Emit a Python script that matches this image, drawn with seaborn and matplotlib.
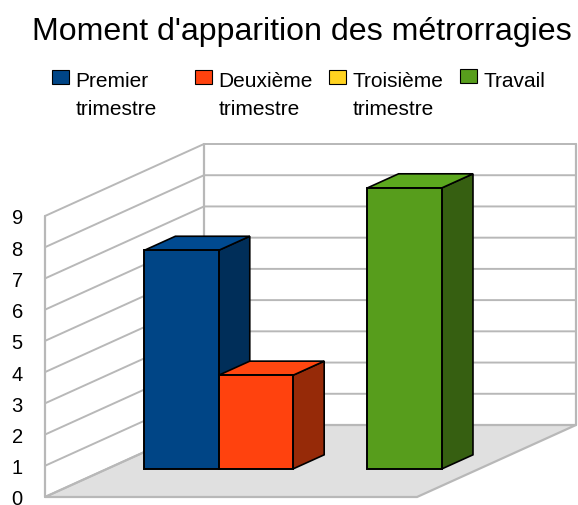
"""Moment d'apparition des metrorragies, bars with a fake 3D depth."""

import matplotlib
matplotlib.use("Agg")
import matplotlib.pyplot as plt
import pandas as pd
import seaborn as sns
from matplotlib.legend_handler import HandlerPatch
from matplotlib.patches import Patch, Polygon, Rectangle

# data
periodes = ["Premier trimestre", "Deuxième trimestre", "Troisième trimestre", "Travail"]
legend_labels = ["Premier\ntrimestre", "Deuxième\ntrimestre", "Troisième\ntrimestre", "Travail"]
cas = [7, 3, 0, 9]
y_ticks = [0, 1, 2, 3, 4, 5, 6, 7, 8, 9]

# colours
front_colors = ["#004586", "#ff420e", "#ffd320", "#579d1c"]
side_colors = ["#002e59", "#962a08", "#997e13", "#365f11"]
top_colors = ["#004a90", "#ff4710", "#ffd622", "#5ca81e"]
GRID = "#b8b8b8"

# layout, in pixels of the 578x506 figure
W, H = 578, 506
AX_LEFT, AX_RIGHT, AX_BOTTOM, AX_TOP = 45, 417, 498, 217
XLIM = (-1, 4)
YLIM = (0, 9)
px_x = (AX_RIGHT - AX_LEFT) / (XLIM[1] - XLIM[0])
px_y = (AX_BOTTOM - AX_TOP) / (YLIM[1] - YLIM[0])

# depth vector of the floor in data units, and where the bars sit along it
DEPTH_X = 159 / px_x
DEPTH_Y = 72 / px_y
BAR_FRONT = 0.39
BAR_DEPTH = 0.196

sns.set_theme(style="white")
plt.rcParams["font.family"] = ["Liberation Sans", "DejaVu Sans"]

fig = plt.figure(figsize=(W / 100, H / 100), dpi=100)
ax = fig.add_axes([AX_LEFT / W, (H - AX_BOTTOM) / H, (AX_RIGHT - AX_LEFT) / W, (AX_BOTTOM - AX_TOP) / H])
ax.patch.set_alpha(0)

df = pd.DataFrame({"periode": periodes, "cas": cas})
sns.barplot(
    data=df, x="periode", y="cas", hue="periode", order=periodes, hue_order=periodes,
    palette=front_colors, saturation=1, width=1, gap=0, legend=False, dodge=False,
    edgecolor="black", linewidth=1.4, ax=ax,
)
bars = list(ax.patches)

x0, x1 = XLIM
y0, y1 = YLIM

# floor and walls
ax.add_patch(Polygon(
    [(x0, y0), (x1, y0), (x1 + DEPTH_X, y0 + DEPTH_Y), (x0 + DEPTH_X, y0 + DEPTH_Y)],
    closed=True, facecolor="#e0e0e0", edgecolor=GRID, linewidth=1.6, zorder=0, clip_on=False,
))
for tick in y_ticks:
    ax.plot([x0, x0 + DEPTH_X, x1 + DEPTH_X], [tick, tick + DEPTH_Y, tick + DEPTH_Y],
            color=GRID, linewidth=1.4, zorder=1, clip_on=False)
ax.plot([x0, x0], [y0, y1], color=GRID, linewidth=1.6, zorder=1, clip_on=False)
ax.plot([x0 + DEPTH_X] * 2, [y0 + DEPTH_Y, y1 + DEPTH_Y], color=GRID, linewidth=1.6, zorder=1, clip_on=False)
ax.plot([x1 + DEPTH_X] * 2, [y0 + DEPTH_Y, y1 + DEPTH_Y], color=GRID, linewidth=1.6, zorder=1, clip_on=False)

# push the bars back on the floor, then add their top and side faces
shift_x = BAR_FRONT * DEPTH_X
shift_y = BAR_FRONT * DEPTH_Y
dx = BAR_DEPTH * DEPTH_X
dy = BAR_DEPTH * DEPTH_Y
for i, bar in enumerate(bars):
    bar.set_clip_on(False)
    if bar.get_height() == 0:
        bar.set_visible(False)
        continue
    bar.set_x(bar.get_x() + shift_x)
    bar.set_y(bar.get_y() + shift_y)
    bar.set_zorder(3 + i)
    left, right = bar.get_x(), bar.get_x() + bar.get_width()
    bottom, top = bar.get_y(), bar.get_y() + bar.get_height()
    ax.add_patch(Polygon(
        [(right, bottom), (right + dx, bottom + dy), (right + dx, top + dy), (right, top)],
        closed=True, facecolor=side_colors[i], edgecolor="black", linewidth=1.2,
        zorder=2.9 + i, clip_on=False,
    ))
    ax.add_patch(Polygon(
        [(left, top), (right, top), (right + dx, top + dy), (left + dx, top + dy)],
        closed=True, facecolor=top_colors[i], edgecolor="black", linewidth=1.2,
        zorder=2.9 + i, clip_on=False,
    ))

ax.set_xlim(XLIM)
ax.set_ylim(YLIM)
ax.set_xticks([])
ax.set_yticks(y_ticks)
ax.set_xlabel("")
ax.set_ylabel("")
ax.tick_params(axis="y", length=0, pad=16, labelsize=14.5, labelcolor="black")
sns.despine(ax=ax, left=True, bottom=True)

fig.text(302 / W, 1 - 32 / H, "Moment d'apparition des métrorragies",
         ha="center", va="center", fontsize=23.1, color="black")


def key_patch(lift):
    # legend key sits next to the first text line, not the middle of the block
    def make(legend, orig_handle, xdescent, ydescent, width, height, fontsize):
        return Rectangle((-xdescent, -ydescent + lift), width, height)
    return make


# legend entries are not evenly spaced in the original, so one legend each
legend_x = [48, 191, 325, 456]
for label, color, lx in zip(legend_labels, front_colors, legend_x):
    lift = 12.7 if "\n" in label else 2
    handle = Patch(facecolor=color, edgecolor="black", linewidth=0.8, label=label)
    leg = fig.legend(
        handles=[handle], handler_map={handle: HandlerPatch(patch_func=key_patch(lift))},
        loc="upper left", bbox_to_anchor=(lx / W, 1 - 68 / H), frameon=False,
        fontsize=15, handlelength=0.8, handleheight=0.67, handletextpad=0.32,
        borderpad=0.2, borderaxespad=0, labelspacing=0, labelcolor="black",
    )
    for text in leg.get_texts():
        text.set_multialignment("left")
        text.set_linespacing(1.56)

fig.savefig("out.png", dpi=100)
plt.close(fig)
